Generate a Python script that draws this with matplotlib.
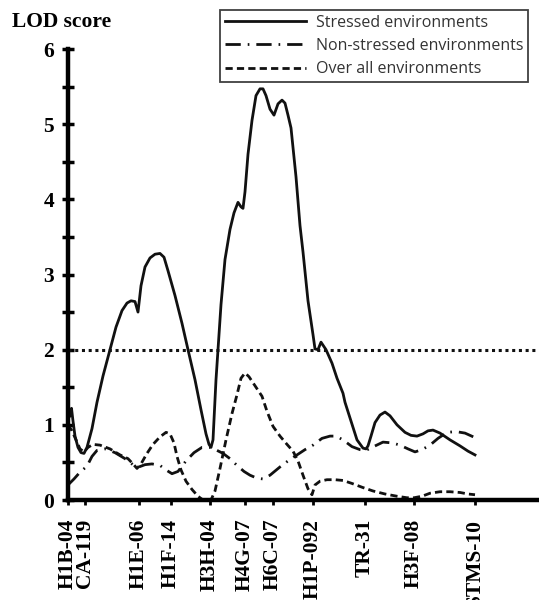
import matplotlib
matplotlib.use("Agg")
import matplotlib.pyplot as plt

# marker names and map positions (same units as the curves)
markers = ["H1B-04", "CA-119", "H1E-06", "H1F-14", "H3H-04", "H4G-07",
           "H6C-07", "H1P-092", "TR-31", "H3F-08", "STMS-10"]
marker_pos = [0, 17, 71, 103, 142, 177, 205, 245, 297, 346, 407]

# LOD profile, stressed environments
stress_x = [0, 2, 3.5, 5, 7, 10, 13, 16, 19, 24, 29, 35, 42, 48, 54, 59, 63, 67,
            70, 73, 77, 82, 87, 92, 96, 100, 107, 114, 120, 127, 133, 138, 141,
            143, 145, 146.5, 148, 150, 153, 157, 162, 166, 170, 173, 175, 177,
            180, 184, 188, 192, 195, 198, 202, 206, 210, 214, 217, 220, 223,
            228, 232, 235, 240, 245, 247, 250, 253, 258, 264, 269, 275, 277,
            283, 289, 295, 298, 300, 303, 307, 312, 317, 322, 329, 337, 343,
            349, 355, 360, 365, 372, 382, 392, 400, 407]
stress_lod = [1.08, 1.12, 1.22, 1.05, 0.85, 0.7, 0.63, 0.62, 0.7, 0.95, 1.3,
              1.65, 2.0, 2.3, 2.52, 2.62, 2.65, 2.64, 2.5, 2.85, 3.1, 3.22,
              3.27, 3.28, 3.23, 3.05, 2.72, 2.35, 2.0, 1.6, 1.2, 0.88, 0.74,
              0.7, 0.8, 1.2, 1.6, 2.0, 2.6, 3.2, 3.6, 3.82, 3.96, 3.9, 3.88,
              4.1, 4.6, 5.05, 5.38, 5.47, 5.47, 5.38, 5.2, 5.12, 5.27, 5.32,
              5.28, 5.12, 4.95, 4.3, 3.65, 3.3, 2.65, 2.2, 2.01, 2.0, 2.1,
              2.0, 1.82, 1.62, 1.42, 1.3, 1.05, 0.8, 0.69, 0.68, 0.72, 0.85,
              1.03, 1.13, 1.17, 1.12, 1.0, 0.9, 0.86, 0.85, 0.88, 0.92, 0.93,
              0.89, 0.8, 0.72, 0.65, 0.6]

# LOD profile, non-stressed environments
nonstress_x = [0, 6, 12, 19, 24, 29, 37, 47, 57, 65, 71, 77, 84, 92, 98, 104,
               110, 118, 126, 134, 142, 149, 155, 162, 169, 176, 182, 189,
               195, 202, 212, 220, 229, 237, 245, 254, 262, 268, 275, 284,
               292, 298, 304, 315, 324, 332, 340, 347, 354, 362, 370, 379,
               388, 397, 407]
nonstress_lod = [0.2, 0.28, 0.37, 0.45, 0.58, 0.66, 0.68, 0.63, 0.55, 0.47,
                 0.44, 0.47, 0.48, 0.46, 0.4, 0.35, 0.38, 0.52, 0.63, 0.7,
                 0.7, 0.66, 0.62, 0.55, 0.46, 0.38, 0.33, 0.29, 0.28, 0.33,
                 0.44, 0.52, 0.6, 0.67, 0.73, 0.82, 0.85, 0.85, 0.8, 0.71,
                 0.67, 0.66, 0.7, 0.77, 0.76, 0.73, 0.68, 0.64, 0.67, 0.73,
                 0.82, 0.9, 0.91, 0.89, 0.83]

# LOD profile, over all environments
overall_x = [0, 4, 8, 12, 16, 20, 25, 32, 42, 52, 60, 65, 69, 73, 79, 85, 92,
             98, 102, 106, 109, 113, 118, 124, 130, 135, 143, 147, 152, 158,
             164, 169, 173, 177, 181, 187, 194, 199, 205, 212, 219, 225, 230,
             235, 240, 244, 247, 252, 259, 267, 275, 284, 294, 305, 317, 329,
             339, 346, 354, 362, 372, 382, 392, 400, 407]
overall_lod = [1.0, 0.92, 0.8, 0.68, 0.64, 0.7, 0.74, 0.73, 0.68, 0.6, 0.55,
               0.48, 0.42, 0.48, 0.62, 0.74, 0.84, 0.9, 0.88, 0.76, 0.58,
               0.4, 0.25, 0.14, 0.05, 0.0, 0.0, 0.12, 0.42, 0.8, 1.15, 1.4,
               1.62, 1.69, 1.64, 1.52, 1.38, 1.18, 0.98, 0.85, 0.74, 0.65,
               0.52, 0.33, 0.15, 0.07, 0.2, 0.25, 0.27, 0.27, 0.26, 0.22,
               0.17, 0.12, 0.08, 0.05, 0.03, 0.03, 0.05, 0.09, 0.11, 0.11,
               0.1, 0.08, 0.07]

threshold = 2
y_major = [0, 1, 2, 3, 4, 5, 6]
y_minor = [0.5, 1.5, 2.5, 3.5, 4.5, 5.5]

serif = "Liberation Serif"
ink = "#111111"

fig = plt.figure(figsize=(5.39, 6.0), dpi=100)
ax = fig.add_axes([68 / 539, 1 - 500 / 600, 1 - 68 / 539, 451 / 600])

l1, = ax.plot(stress_x, stress_lod, color=ink, lw=2.0, solid_joinstyle="round",
              label="Stressed environments")
l2, = ax.plot(nonstress_x, nonstress_lod, color=ink, lw=2.0,
              linestyle=(0, (5.5, 2.5, 0.6, 2.5)),
              label="Non-stressed environments")
l3, = ax.plot(overall_x, overall_lod, color=ink, lw=2.0,
              linestyle=(0, (2.6, 1.5)), label="Over all environments")
ax.axhline(threshold, color=ink, lw=2.2, linestyle=(0, (1, 1.2)))

ax.set_xlim(0, 471)
ax.set_ylim(0, 6)

for s in ["top", "right"]:
    ax.spines[s].set_visible(False)
ax.spines["left"].set_linewidth(3.2)
ax.spines["bottom"].set_linewidth(3.2)

ax.set_yticks(y_major)
ax.set_yticks(y_minor, minor=True)
ax.tick_params(axis="y", which="both", direction="inout", length=8, width=2.5,
               pad=6)
ax.set_yticklabels([str(v) for v in y_major], fontfamily=serif,
                   fontweight="bold", fontsize=15.5)

ax.set_xticks(marker_pos)
ax.set_xticklabels(markers, rotation=90, fontfamily=serif, fontweight="bold",
                   fontsize=15.5, va="top", ha="center")
ax.tick_params(axis="x", direction="out", length=3.5, width=2, pad=10)

fig.text(12 / 539, 1 - 22 / 600, "LOD score", fontfamily=serif,
         fontweight="bold", fontsize=15.5, ha="left", va="center")

leg = fig.legend(handles=[l1, l2, l3], loc="upper right",
                 bbox_to_anchor=(528 / 539, 1 - 10 / 600), frameon=True,
                 fancybox=False, edgecolor=ink, prop={"family": "Open Sans",
                                                       "size": 11.5},
                 handlelength=5.1, handletextpad=0.6, labelspacing=0.45,
                 borderpad=0.3, borderaxespad=0)
leg.get_frame().set_linewidth(1.3)
for t in leg.get_texts():
    t.set_color("#333333")

fig.savefig("out.png", dpi=100)
